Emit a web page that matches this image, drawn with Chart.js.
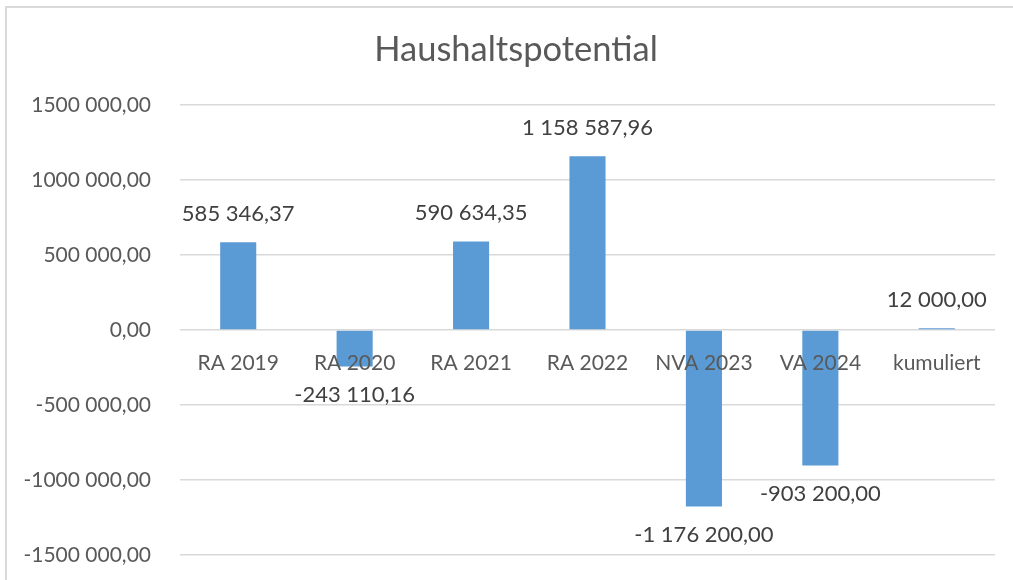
<!DOCTYPE html>
<html>
<head>
<meta charset="utf-8">
<script src="https://cdn.jsdelivr.net/npm/chart.js@4"></script>
<style>
  body { margin: 0; background: #fff; }
  #wrap { width: 1013px; height: 580px; }
</style>
</head>
<body>
<div id="wrap"><canvas id="chart" width="1013" height="580"></canvas></div>
<script>
const categories = ["RA 2019", "RA 2020", "RA 2021", "RA 2022", "NVA 2023", "VA 2024", "kumuliert"];
const values = [585346.37, -243110.16, 590634.35, 1158587.96, -1176200.0, -903200.0, 12000.0];
const valueLabels = ["585 346,37", "-243 110,16", "590 634,35", "1 158 587,96", "-1 176 200,00", "-903 200,00", "12 000,00"];
const yTickValues = [-1500000, -1000000, -500000, 0, 500000, 1000000, 1500000];
const yTickLabels = ["-1500 000,00", "-1000 000,00", "-500 000,00", "0,00", "500 000,00", "1000 000,00", "1500 000,00"];
const chartTitle = "Haushaltspotential";

const fontFamily = "Lato, 'Open Sans', sans-serif";

// rahmen, hintergrund und titel (titel mittig im rahmen, nicht im canvas)
const frame = {
  id: "frame",
  beforeDraw(chart) {
    const ctx = chart.ctx;
    ctx.save();
    ctx.fillStyle = "#fff";
    ctx.fillRect(0, 0, chart.width, chart.height);
    ctx.strokeStyle = "#d9d9d9";
    ctx.lineWidth = 2;
    ctx.strokeRect(6, 7, 1100, 700);
    ctx.font = "34.5px " + fontFamily;
    ctx.fillStyle = "#595959";
    ctx.textAlign = "center";
    ctx.textBaseline = "middle";
    ctx.fillText(chartTitle, 516, 50);
    ctx.restore();
  },
};

// datenbeschriftungen ueber/unter den balken
const barLabels = {
  id: "barLabels",
  afterDraw(chart) {
    const ctx = chart.ctx;
    const meta = chart.getDatasetMeta(0);
    ctx.save();
    ctx.font = "22px " + fontFamily;
    ctx.fillStyle = "#404040";
    ctx.textAlign = "center";
    ctx.textBaseline = "middle";
    meta.data.forEach((bar, i) => {
      const off = values[i] >= 0 ? -28 : 28;
      ctx.fillText(valueLabels[i], bar.x, bar.y + off);
    });
    ctx.restore();
  },
};

new Chart(document.getElementById("chart"), {
  type: "bar",
  data: {
    labels: categories,
    datasets: [
      {
        data: values,
        backgroundColor: "#5b9bd5",
        barPercentage: 0.31,
        categoryPercentage: 1,
      },
    ],
  },
  options: {
    responsive: false,
    animation: false,
    layout: { padding: { left: 0, right: 18, top: 105, bottom: 25 } },
    plugins: {
      legend: { display: false },
      tooltip: { enabled: false },
      title: { display: false },
    },
    scales: {
      x: {
        position: { y: 0 },
        grid: { display: false },
        border: { display: false },
        ticks: {
          z: 1,
          color: "#595959",
          padding: 13,
          maxRotation: 0,
          font: { family: fontFamily, size: 21 },
        },
      },
      y: {
        min: -1500000,
        max: 1500000,
        afterBuildTicks: (scale) => {
          scale.ticks = yTickValues.map((v) => ({ value: v }));
        },
        afterFit: (scale) => {
          scale.width = 180;
          // tick-padding soll nicht unten platz fressen
          scale.paddingTop = 0;
          scale.paddingBottom = 0;
        },
        grid: { color: "#d9d9d9", lineWidth: 1.5, drawTicks: false },
        border: { display: false },
        ticks: {
          color: "#595959",
          padding: 29,
          font: { family: fontFamily, size: 21 },
          callback: (v) => yTickLabels[yTickValues.indexOf(v)],
        },
      },
    },
  },
  plugins: [frame, barLabels],
});
</script>
</body>
</html>
